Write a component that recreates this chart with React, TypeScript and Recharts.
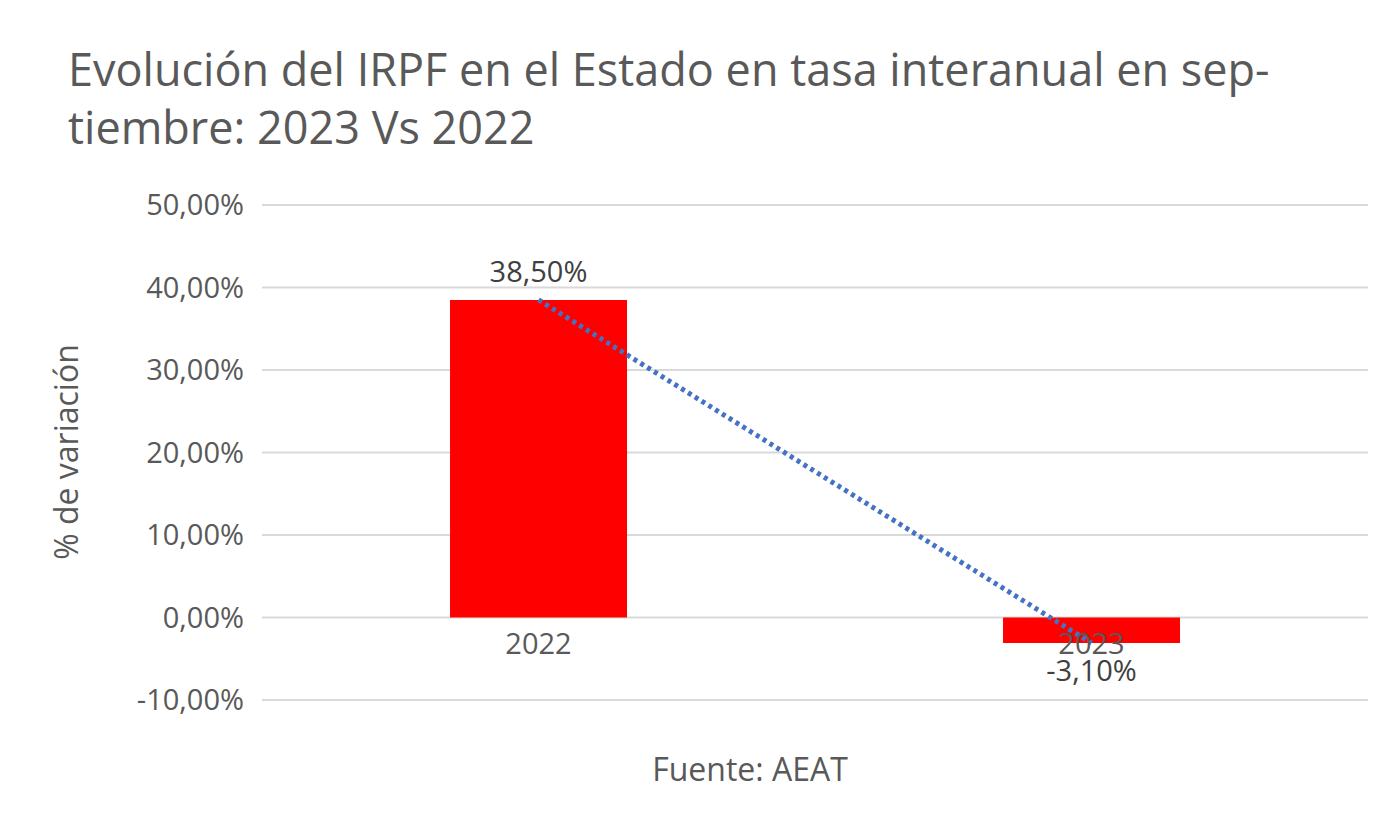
import { Bar, CartesianGrid, ComposedChart, LabelList, Line, XAxis, YAxis } from "recharts";

const years = ["2022", "2023"];
const rates = [38.5, -3.1];
const ticks = [-10, 0, 10, 20, 30, 40, 50];

const data = years.map((year, i) => ({ year, rate: rates[i] }));
const txt = "#595959";
const font = "'Open Sans', sans-serif";
const fmt = (v: number) => v.toFixed(2).replace(".", ",") + "%";

function YearLabel(props: any) {
  const { x, y, width, height, index } = props;
  const v = rates[index];
  const zeroY = v >= 0 ? Math.max(y, y + height) : Math.min(y, y + height);
  return (
    <text x={x + width / 2} y={zeroY + 36} textAnchor="middle" fill={txt} fontSize={29} fontFamily={font}>
      {years[index]}
    </text>
  );
}

function ValueLabel(props: any) {
  const { x, y, width, height, index } = props;
  const v = rates[index];
  const top = Math.min(y, y + height);
  const bottom = Math.max(y, y + height);
  const ly = v >= 0 ? top - 18 : bottom + 38;
  return (
    <text x={x + width / 2} y={ly} textAnchor="middle" fill="#404040" fontSize={29} fontFamily={font}>
      {fmt(v)}
    </text>
  );
}

export default function App() {
  return (
    <div style={{ position: "absolute", left: 0, top: 0, width: 1400, height: 825, background: "#fff", fontFamily: font }}>
      <div style={{ position: "absolute", left: 68, top: 40, fontSize: 45, lineHeight: "58px", color: txt, width: 1320, whiteSpace: "nowrap" }}>
        Evolución del IRPF en el Estado en tasa interanual en sep-
        <br />
        tiembre: 2023 Vs 2022
      </div>
      <ComposedChart
        width={1400}
        height={825}
        data={data}
        margin={{ top: 205, right: 32, bottom: 125, left: 62 }}
        barCategoryGap="34%"
      >
        <CartesianGrid vertical={false} stroke="#d9d9d9" strokeWidth={2} />
        <XAxis dataKey="year" hide />
        <YAxis
          domain={[-10, 50]}
          ticks={ticks}
          tickFormatter={fmt}
          width={200}
          axisLine={false}
          tickLine={false}
          tickMargin={12}
          tick={{ fill: txt, fontSize: 29, fontFamily: font }}
        />
        <Bar dataKey="rate" fill="#ff0000" isAnimationActive={false}>
          <LabelList dataKey="rate" content={<ValueLabel />} />
          <LabelList dataKey="rate" content={<YearLabel />} />
        </Bar>
        <Line
          dataKey="rate"
          stroke="#4472C4"
          strokeWidth={5}
          strokeDasharray="4 4"
          dot={false}
          activeDot={false}
          isAnimationActive={false}
        />
      </ComposedChart>
      <div style={{ position: "absolute", left: 65, top: 452, transform: "translate(-50%,-50%) rotate(-90deg)", fontSize: 32, color: txt, whiteSpace: "nowrap" }}>
        % de variación
      </div>
      <div style={{ position: "absolute", left: 750, top: 768, transform: "translate(-50%,-50%)", fontSize: 32, color: txt, whiteSpace: "nowrap" }}>
        Fuente: AEAT
      </div>
    </div>
  );
}
